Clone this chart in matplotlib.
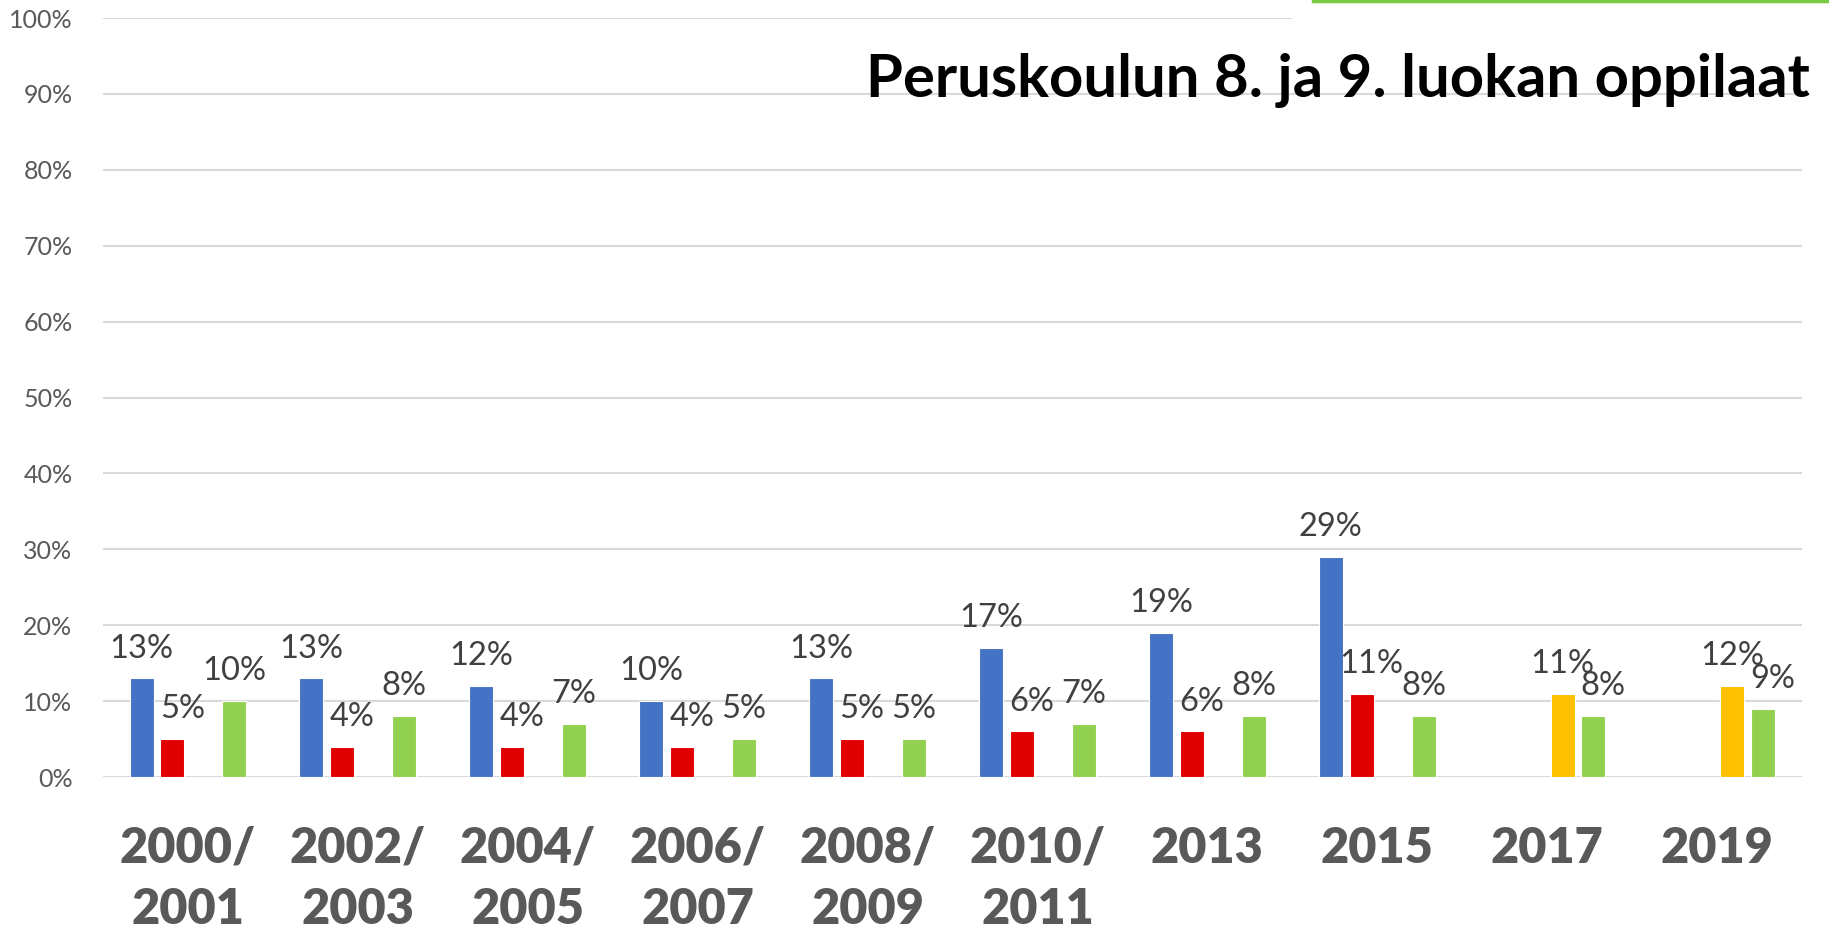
import matplotlib.pyplot as plt
import numpy as np
from matplotlib.patches import Rectangle
from matplotlib.lines import Line2D

# Data (%), nan = ei tietoa
vuodet = ["2000/\n2001", "2002/\n2003", "2004/\n2005", "2006/\n2007", "2008/\n2009",
          "2010/\n2011", "2013", "2015", "2017", "2019"]
sininen = [13, 13, 12, 10, 13, 17, 19, 29, np.nan, np.nan]
punainen = [5, 4, 4, 4, 5, 6, 6, 11, np.nan, np.nan]
keltainen = [np.nan] * 8 + [11, 12]
vihrea = [10, 8, 7, 5, 5, 7, 8, 8, 8, 9]
otsikko = "Peruskoulun 8. ja 9. luokan oppilaat"

sarjat = [sininen, punainen, keltainen, vihrea]
varit = ["#4472C4", "#E00000", "#FFC000", "#92D050"]

plt.rcParams['font.family'] = ['Lato', 'DejaVu Sans']

fig = plt.figure(figsize=(18.29, 9.30), dpi=100)
ax = fig.add_axes([0.0563, 0.1645, 0.9289, 0.8161])

x = np.arange(len(vuodet))
leveys = 0.141
askel = 0.182

for i, (arvot, vari) in enumerate(zip(sarjat, varit)):
    arvot = np.array(arvot, dtype=float)
    pos = x + (i - 1.5) * askel
    ax.bar(pos, arvot / 100, width=leveys, color=vari, edgecolor="white",
           linewidth=0.8, zorder=3)
    for j, (p, v) in enumerate(zip(pos, arvot)):
        if np.isnan(v):
            continue
        # Excel-tyyliset siirrot, jotta tekstit eivät mene päällekkäin
        dx = 0
        if i == 1:
            dx = 7
        if i == 3 and not np.isnan(keltainen[j]):
            dx = 7
        ax.annotate(f"{int(v)}%", (p, v / 100), xytext=(dx, 15),
                    textcoords="offset points", ha="center", va="baseline",
                    fontsize=23.5, color="#404040", zorder=4)

ax.set_xlim(-0.5, len(vuodet) - 0.5)
ax.set_ylim(0, 1)
ax.set_yticks(np.arange(0, 1.01, 0.1))
ax.set_yticklabels([f"{int(round(t * 100))}%" for t in np.arange(0, 1.01, 0.1)])
ax.set_xticks(x)
ax.set_xticklabels(vuodet, fontsize=35, fontweight="heavy", color="#595959",
                   linespacing=1.45)
ax.tick_params(axis="x", length=0, pad=35)
ax.tick_params(axis="y", length=0, pad=22, labelsize=18, labelcolor="#595959")
ax.grid(axis="y", color="#D9D9D9", linewidth=1.5, zorder=0)
ax.set_axisbelow(True)
for s in ax.spines.values():
    s.set_visible(False)

# otsikkolaatikko oikeassa yläkulmassa
fig.patches.append(Rectangle((1292 / 1829, 1 - 40 / 930), 1 - 1292 / 1829, 40 / 930,
                             transform=fig.transFigure, facecolor="white",
                             edgecolor="none", zorder=5))
fig.lines.append(Line2D([1313 / 1829, 1], [1 - 1.5 / 930, 1 - 1.5 / 930],
                        transform=fig.transFigure, color="#7AC943", linewidth=2.5,
                        zorder=6))
fig.text(1810 / 1829, 1 - 97 / 930, otsikko, ha="right", va="baseline",
         fontsize=43, fontweight="bold", color="black", zorder=7)

fig.savefig("out.png", dpi=100, facecolor="white")
